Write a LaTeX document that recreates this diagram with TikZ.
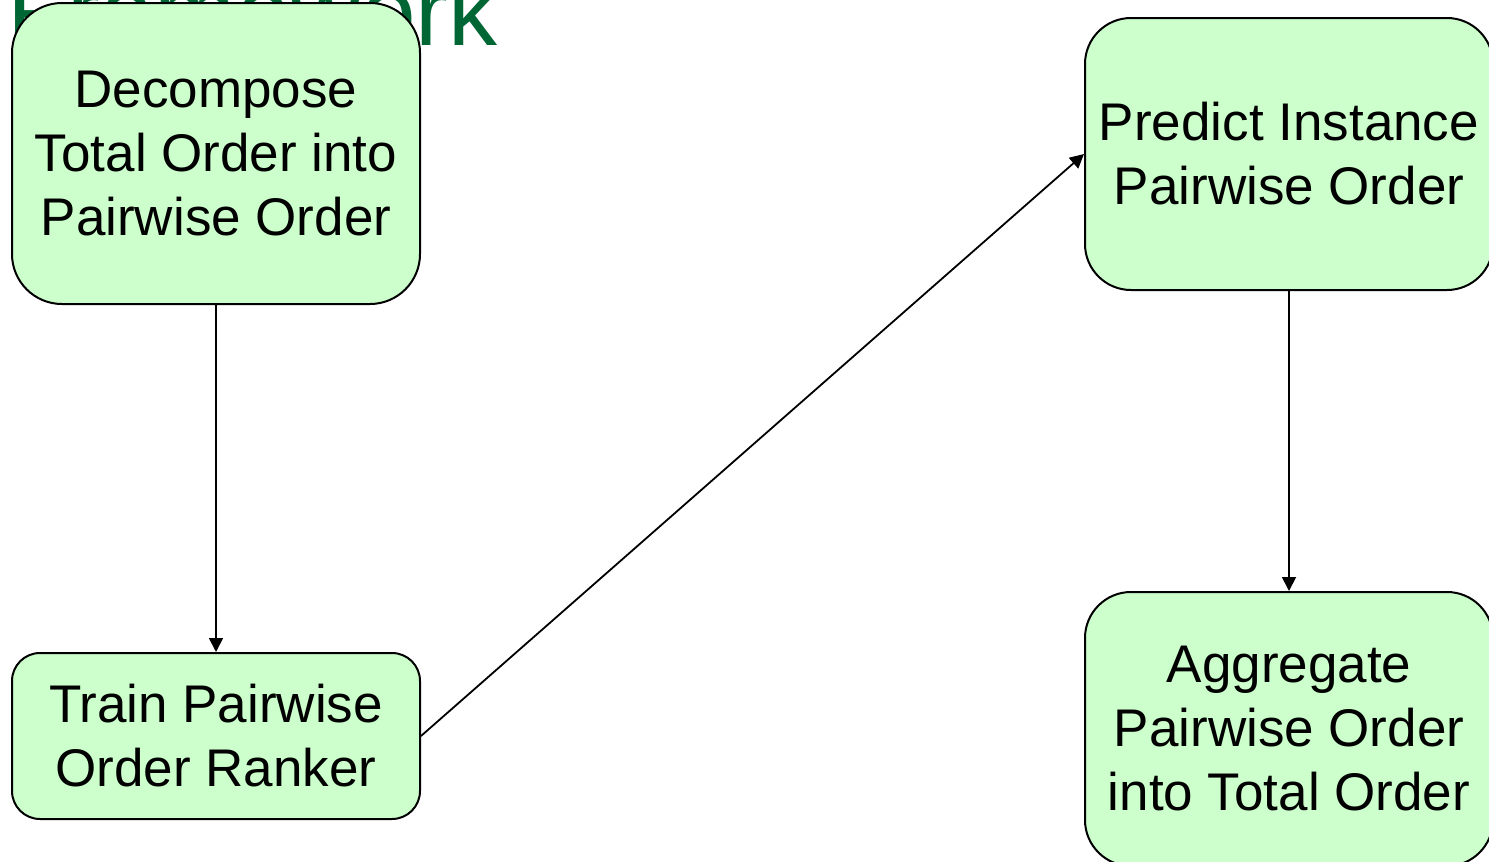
\documentclass[tikz,border=0pt]{standalone}
\usepackage{fontspec}
\setmainfont{Liberation Sans}
\usetikzlibrary{arrows.meta}
\definecolor{boxfill}{RGB}{204,255,204}
\definecolor{titlegreen}{RGB}{0,102,51}
\tikzset{
  stepbox/.style={draw=black, line width=1pt, fill=boxfill, align=center, inner sep=0pt,
    minimum width=204pt, font=\fontsize{26.5}{32}\selectfont},
  flow/.style={draw=black, line width=0.9pt, -{Triangle[length=7pt,width=7pt]}}
}
\begin{document}
\begin{tikzpicture}[x=0.5pt,y=-0.5pt]
\useasboundingbox (0,0) rectangle (1489,862);
\clip (0,0) rectangle (1489,862);
\node[anchor=base east, text=titlegreen, inner sep=0pt, font=\fontsize{49}{58}\selectfont] (title) at (498,45) {Framework};
\node[stepbox, minimum height=150.5pt, rounded corners=25pt] (a) at (216,153.5) {Decompose\\Total Order into\\Pairwise Order};
\node[stepbox, minimum height=83pt, rounded corners=14pt] (b) at (216,736) {Train Pairwise\\Order Ranker};
\node[stepbox, minimum height=136pt, rounded corners=23pt] (c) at (1289,154) {Predict Instance\\Pairwise Order};
\node[stepbox, minimum height=137pt, rounded corners=23pt] (d) at (1289,729) {Aggregate\\Pairwise Order\\into Total Order};
\draw[flow] (a.south) -- (b.north);
\draw[flow] (b.east) -- (c.west);
\draw[flow] (c.south) -- (d.north);
\end{tikzpicture}
\end{document}
